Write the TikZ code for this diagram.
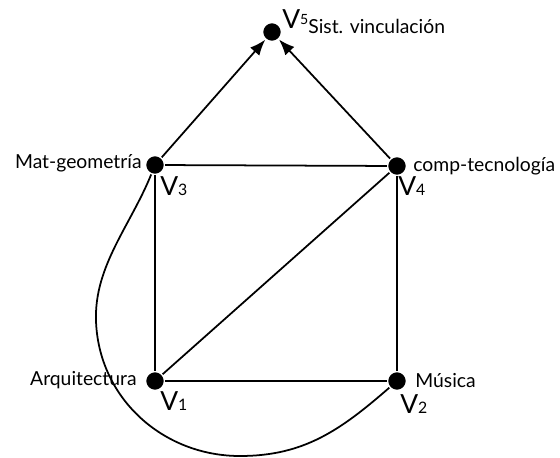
\documentclass[tikz,border=0pt]{standalone}
\usepackage{fontspec}
\setmainfont{Lato}
\usetikzlibrary{arrows.meta}

\tikzset{
  vert/.style={circle, fill=black, draw=white, line width=0.8pt, inner sep=0pt, minimum size=0.38cm},
  area/.style={font=\fontsize{11}{13}\selectfont, inner sep=0pt},
  vlab/.style={font=\fontsize{15}{17}\selectfont, inner sep=0pt},
  edge/.style={line width=1pt},
  dir/.style={edge, -{Latex[length=9pt,width=7pt]}}
}
\newcommand{\vname}[1]{V{\fontsize{9}{10}\selectfont #1}}

\begin{document}
\begin{tikzpicture}
  \useasboundingbox (0,0) rectangle (11.2,9.14);
  % vertices
  \node[vert] (v5) at (5.44,8.5) {};
  \node[vert] (v3) at (3.1,5.84) {};
  \node[vert] (v4) at (7.94,5.82) {};
  \node[vert] (v1) at (3.1,1.52) {};
  \node[vert] (v2) at (7.94,1.52) {};
  % edges of the square
  \draw[edge] (v3) -- (v4);
  \draw[edge] (v3) -- (v1);
  \draw[edge] (v4) -- (v2);
  \draw[edge] (v1) -- (v2);
  \draw[edge] (v1) -- (v4);
  % arrows up to v5
  \draw[dir] (v3) -- (v5);
  \draw[dir] (v4) -- (v5);
  % long curve from v3 round to v2
  \coordinate (west) at (1.92,2.72);
  \coordinate (south) at (4.8,0.02);
  \draw[edge] (v3) to[out=248,in=92,looseness=0.9] (west)
    to[out=272,in=180] (south) to[out=0,in=221] (v2);
  % vertex names
  \node[vlab, anchor=base west] (n5) at (5.64,8.58) {V\raisebox{0.25ex}{\fontsize{8}{9}\selectfont 5}};
  \node[vlab, anchor=base west] (n3) at (3.2,5.24) {\vname{3}};
  \node[vlab, anchor=base west] (n4) at (7.96,5.24) {\vname{4}};
  \node[vlab, anchor=base west] (n1) at (3.2,0.94) {\vname{1}};
  \node[vlab, anchor=base west] (n2) at (8.0,0.88) {\vname{2}};
  % areas
  \node[area, anchor=base west] (sist) at (6.16,8.48) {Sist. vinculación};
  \node[area, anchor=base east] (mat) at (2.84,5.78) {Mat-geometría};
  \node[area, anchor=base west] (comp) at (8.26,5.72) {comp-tecnología};
  \node[area, anchor=base east] (arq) at (2.74,1.44) {Arquitectura};
  \node[area, anchor=base west] (mus) at (8.3,1.4) {Música};
\end{tikzpicture}
\end{document}
